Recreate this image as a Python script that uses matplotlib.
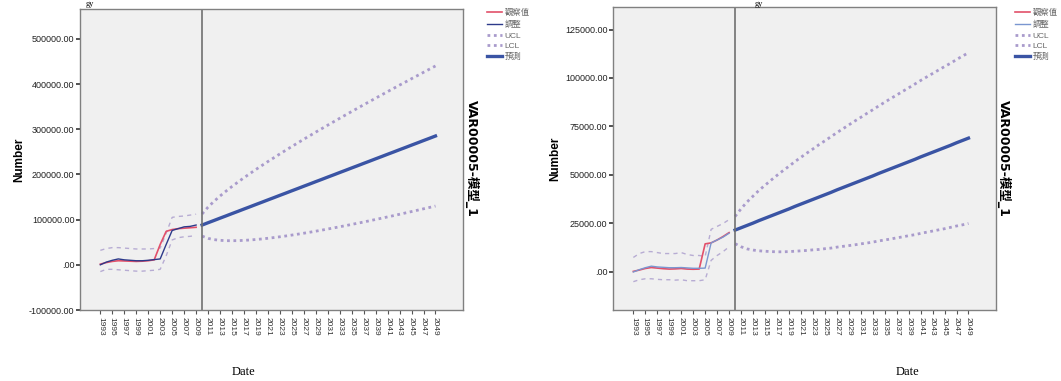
import matplotlib.pyplot as plt
import matplotlib.ticker as mticker

plt.rcParams['font.family'] = ['Liberation Sans', 'Noto Sans CJK TC', 'DejaVu Sans']

# observed years and forecast years
obs_years = list(range(1993, 2010))
fc_years = list(range(2010, 2050))
tick_years = list(range(1993, 2050, 2))

# left panel (values)
left_obs = [1500, 5000, 7500, 9000, 8500, 8000, 7500, 8000, 9000, 11000,
            45000, 74000, 78000, 80000, 81000, 82000, 83000]
left_fit = [0, 6000, 10000, 13000, 11000, 10000, 9000, 9000, 10000, 11500,
            13000, 45000, 76000, 80000, 84000, 85000, 88000]
left_ucl_obs = [32000, 36000, 38000, 38000, 37000, 36000, 35000, 35000, 35000, 36000,
                37000, 70000, 105000, 107000, 108000, 110000, 112000]
left_lcl_obs = [-15000, -10000, -10000, -11000, -12000, -13000, -14000, -14000, -13000, -12000,
                -10000, 20000, 55000, 60000, 62000, 63000, 65000]
left_fc = [88.0, 93.1, 98.1, 103.2, 108.2, 113.3, 118.3, 123.4, 128.4, 133.5,
           138.5, 143.6, 148.6, 153.7, 158.7, 163.8, 168.8, 173.9, 178.9, 184.0,
           189.0, 194.1, 199.1, 204.2, 209.2, 214.3, 219.3, 224.4, 229.4, 234.5,
           239.5, 244.6, 249.6, 254.7, 259.7, 264.8, 269.8, 274.9, 279.9, 285.0]
left_ucl = [112.5, 127.7, 140.5, 152.2, 163.0, 173.3, 183.1, 192.7, 201.9, 211.0,
            219.8, 228.5, 236.9, 245.4, 253.6, 261.8, 269.8, 277.9, 285.7, 293.6,
            301.3, 309.0, 316.6, 324.2, 331.7, 339.2, 346.6, 354.1, 361.3, 368.7,
            375.9, 383.2, 390.4, 397.6, 404.6, 411.8, 418.8, 425.9, 432.9, 440.0]
left_lcl = [63.5, 58.5, 55.7, 54.2, 53.4, 53.3, 53.5, 54.1, 54.9, 56.0,
            57.2, 58.7, 60.3, 62.0, 63.8, 65.8, 67.8, 69.9, 72.1, 74.4,
            76.7, 79.2, 81.6, 84.2, 86.7, 89.4, 92.0, 94.7, 97.5, 100.3,
            103.1, 106.0, 108.8, 111.8, 114.8, 117.8, 120.8, 123.9, 126.9, 130.0]

# right panel (values)
right_obs = [300, 1000, 1800, 2300, 2000, 1700, 1500, 1600, 1800, 1500,
             1400, 1500, 14500, 15000, 16500, 18300, 20300]
right_fit = [0, 1200, 2200, 3000, 2600, 2400, 2200, 2200, 2300, 2100,
             1900, 1900, 2000, 15000, 16500, 18000, 20000]
right_ucl_obs = [7500, 9500, 10500, 10500, 10000, 9500, 9500, 9500, 10000, 9000,
                 8500, 8500, 8000, 22000, 23500, 25000, 27000]
right_lcl_obs = [-5000, -4000, -3500, -3500, -3800, -4000, -4000, -4200, -4000, -4500,
                 -4500, -4500, -4000, 6000, 8500, 10500, 13000]
right_fc = [21.6, 22.8, 24.0, 25.2, 26.5, 27.7, 28.9, 30.1, 31.3, 32.5,
            33.8, 35.0, 36.2, 37.4, 38.6, 39.8, 41.0, 42.3, 43.5, 44.7,
            45.9, 47.1, 48.3, 49.5, 50.8, 52.0, 53.2, 54.4, 55.6, 56.8,
            58.0, 59.3, 60.5, 61.7, 62.9, 64.1, 65.3, 66.6, 67.8, 69.0]
right_ucl = [28.6, 32.6, 36.1, 39.1, 42.1, 44.7, 47.3, 49.8, 52.2, 54.5,
             56.9, 59.1, 61.3, 63.4, 65.6, 67.6, 69.7, 71.8, 73.8, 75.8,
             77.8, 79.7, 81.7, 83.6, 85.6, 87.5, 89.4, 91.2, 93.1, 94.9,
             96.8, 98.7, 100.5, 102.3, 104.1, 105.9, 107.6, 109.5, 111.3, 113.0]
right_lcl = [14.6, 13.0, 11.9, 11.3, 10.9, 10.7, 10.5, 10.4, 10.4, 10.5,
             10.7, 10.9, 11.1, 11.4, 11.6, 12.0, 12.3, 12.8, 13.2, 13.6,
             14.0, 14.5, 14.9, 15.4, 16.0, 16.5, 17.0, 17.6, 18.1, 18.7,
             19.2, 19.9, 20.5, 21.1, 21.7, 22.3, 23.0, 23.7, 24.3, 25.0]

legend_labels = ['觀察值', '調整', 'UCL', 'LCL', '預測']
RED = '#e2506a'
BAND = '#a99bcc'
FC = '#3a54a4'
DOT = (0, (1, 1.3))

W, H = 1061, 381
fig = plt.figure(figsize=(W / 100, H / 100), dpi=100)


def panel(rect, obs, fit, fit_color, ucl_o, lcl_o, fc, ucl, lcl, ylim, yticks, leg_x, lab_x, date_x):
    ax = fig.add_axes(rect)
    ax.set_facecolor('#f0f0f0')
    k = 1000.0
    ax.plot(obs_years, ucl_o, color=BAND, lw=1.0, ls=(0, (3, 3)), alpha=0.8)
    ax.plot(obs_years, lcl_o, color=BAND, lw=1.0, ls=(0, (3, 3)), alpha=0.8)
    h_obs, = ax.plot(obs_years, obs, color=RED, lw=1.2)
    h_fit, = ax.plot(obs_years, fit, color=fit_color, lw=1.0)
    h_u, = ax.plot(fc_years, [v * k for v in ucl], color=BAND, lw=2.0, ls=DOT)
    h_l, = ax.plot(fc_years, [v * k for v in lcl], color=BAND, lw=2.0, ls=DOT)
    h_f, = ax.plot(fc_years, [v * k for v in fc], color=FC, lw=2.4)
    ax.axvline(2010, color='#707070', lw=1.2)
    ax.set_xlim(1989.6, 2053.6)
    ax.set_ylim(*ylim)
    ax.set_yticks(yticks)
    ax.yaxis.set_major_formatter(mticker.FuncFormatter(
        lambda v, p: '.00' if v == 0 else '%.2f' % v))
    ax.set_xticks(tick_years)
    ax.set_xticklabels([str(y) for y in tick_years], rotation=-90, fontsize=6, color='#333333')
    ax.tick_params(axis='y', labelsize=6.5, length=3, width=1.2, color='#333333', labelcolor='#222222', pad=1)
    ax.tick_params(axis='x', length=3, width=0.8, color='#555555', pad=2)
    for s in ax.spines.values():
        s.set_color('#808080')
        s.set_linewidth(1.0)
    ax.set_ylabel('Number', fontsize=8.5, fontweight='bold', labelpad=3)
    fig.text(date_x / W, 1 - 372 / H, 'Date', family='Liberation Serif', fontsize=9,
             ha='center', va='center')
    fig.text(lab_x / W, 1 - 158 / H, 'VAR00005-模型_1', rotation=-90, fontsize=9,
             fontweight='bold', ha='center', va='center',
             family=['DejaVu Sans', 'Noto Sans CJK TC'])
    fig.legend([h_obs, h_fit, h_u, h_l, h_f], legend_labels, loc='upper left',
               bbox_to_anchor=(leg_x / W, 1 - 6 / H), frameon=False, fontsize=6,
               handlelength=1.7, handletextpad=0.4, labelspacing=0.35, borderaxespad=0,
               labelcolor='#666666')
    return ax


panel([80 / W, 71 / H, 383 / W, 301 / H], left_obs, left_fit, '#2d3a8a',
      left_ucl_obs, left_lcl_obs, left_fc, left_ucl, left_lcl,
      (-100000, 566000), [-100000, 0, 100000, 200000, 300000, 400000, 500000],
      484, 472, 243)
panel([613 / W, 71 / H, 383 / W, 303 / H], right_obs, right_fit, '#7a96d0',
      right_ucl_obs, right_lcl_obs, right_fc, right_ucl, right_lcl,
      (-19600, 136600), [0, 25000, 50000, 75000, 100000, 125000],
      1012, 1004, 907)

# title text from the page above, mostly hidden in the reference
fig.text(86 / W, 1 - 0.5 / H, 'gy', family='Liberation Serif', fontsize=6, va='top')
fig.text(755 / W, 1 - 0.5 / H, 'gy', family='Liberation Serif', fontsize=6, va='top')

fig.savefig('out.png', dpi=100)
